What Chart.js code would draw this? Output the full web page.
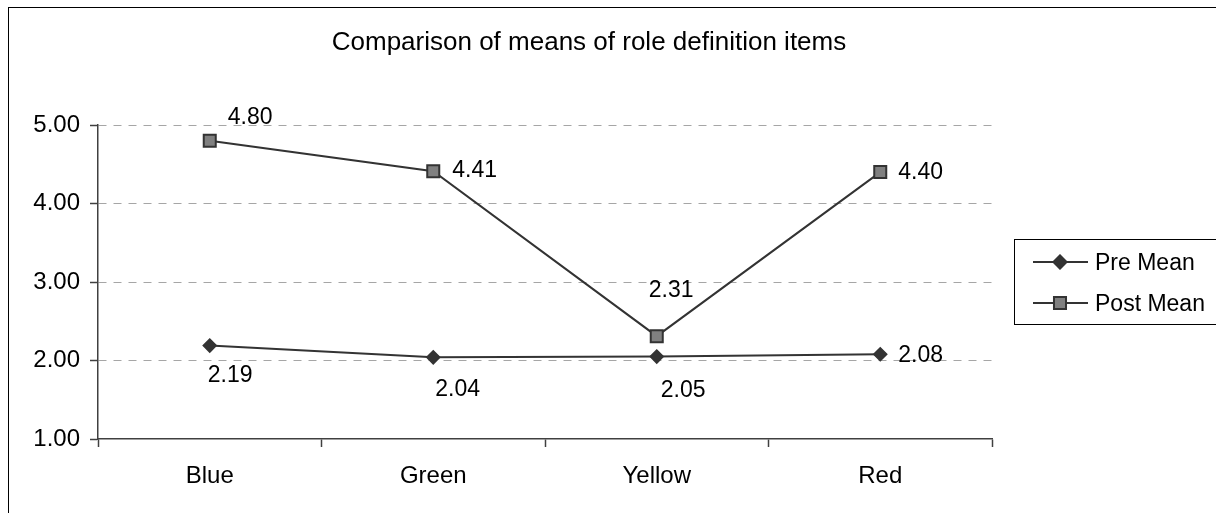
<!DOCTYPE html>
<html>
<head>
<meta charset="utf-8">
<title>Comparison of means of role definition items</title>
<script src="https://cdn.jsdelivr.net/npm/chart.js@4/dist/chart.umd.min.js"></script>
<style>
  html, body { margin: 0; padding: 0; background: #ffffff; }
  #wrap { width: 1216px; height: 513px; overflow: hidden; }
  canvas { display: block; }
</style>
</head>
<body>
<div id="wrap"><canvas id="chart" width="1216" height="513"></canvas></div>
<script>
// Categories and series
const categories = ['Blue', 'Green', 'Yellow', 'Red'];
const preMean = [2.19, 2.04, 2.05, 2.08];
const postMean = [4.80, 4.41, 2.31, 4.40];
const seriesNames = ['Pre Mean', 'Post Mean'];
const chartTitle = 'Comparison of means of role definition items';

// Where each value label sits relative to its point (dx, dy in px, text baseline)
const preLabelOffset = [[-2, 36], [2, 39], [4, 40], [18, 8]];
const postLabelOffset = [[18, -17], [19, 6], [-8, -39], [18, 7]];

const FONT = '"Liberation Sans", Arial, sans-serif';
const LINE = '#333333';
const AXIS = '#404040';
const GRID = '#a6a6a6';

// Frame, title, value labels and legend box
const decorations = {
  id: 'decorations',
  beforeDraw(chart) {
    const ctx = chart.ctx;
    ctx.save();
    ctx.fillStyle = '#ffffff';
    ctx.fillRect(0, 0, chart.width, chart.height);
    ctx.strokeStyle = '#000000';
    ctx.lineWidth = 1;
    ctx.strokeRect(8.5, 7.5, 1300, 600);
    ctx.fillStyle = '#000000';
    ctx.font = '26px ' + FONT;
    ctx.textAlign = 'center';
    ctx.textBaseline = 'alphabetic';
    ctx.fillText(chartTitle, 589, 50);
    ctx.restore();
  },
  afterDatasetsDraw(chart) {
    const ctx = chart.ctx;
    const offsets = [preLabelOffset, postLabelOffset];
    ctx.save();
    ctx.fillStyle = '#000000';
    ctx.font = '23px ' + FONT;
    ctx.textAlign = 'left';
    ctx.textBaseline = 'alphabetic';
    chart.data.datasets.forEach((ds, di) => {
      const meta = chart.getDatasetMeta(di);
      meta.data.forEach((pt, i) => {
        const [dx, dy] = offsets[di][i];
        ctx.fillText(ds.data[i].toFixed(2), pt.x + dx, pt.y + dy);
      });
    });

    // legend
    const bx = 1014.5, by = 239.5, bw = 300, bh = 85;
    ctx.strokeStyle = '#000000';
    ctx.lineWidth = 1;
    ctx.strokeRect(bx, by, bw, bh);
    const rows = [262, 303];
    chart.data.datasets.forEach((ds, di) => {
      const y = rows[di];
      ctx.strokeStyle = LINE;
      ctx.lineWidth = 2;
      ctx.beginPath();
      ctx.moveTo(1033, y);
      ctx.lineTo(1088, y);
      ctx.stroke();
      Chart.helpers.drawPoint(ctx, {
        pointStyle: ds.pointStyle,
        radius: ds.pointRadius,
        borderWidth: ds.pointBorderWidth,
        rotation: 0
      }, 1060, y);
      ctx.fillStyle = ds.pointBackgroundColor;
      ctx.strokeStyle = ds.pointBorderColor;
      ctx.lineWidth = ds.pointBorderWidth;
      ctx.beginPath();
      if (ds.pointStyle === 'rect') {
        const s = Math.SQRT1_2 * ds.pointRadius;
        ctx.rect(1060 - s, y - s, 2 * s, 2 * s);
      } else {
        const r = ds.pointRadius;
        ctx.moveTo(1060 - r, y);
        ctx.lineTo(1060, y - r);
        ctx.lineTo(1060 + r, y);
        ctx.lineTo(1060, y + r);
        ctx.closePath();
      }
      ctx.fill();
      ctx.stroke();
      ctx.fillStyle = '#000000';
      ctx.font = '23px ' + FONT;
      ctx.textAlign = 'left';
      ctx.textBaseline = 'alphabetic';
      ctx.fillText(ds.label, 1095, y + 8);
    });
    ctx.restore();
  }
};

new Chart(document.getElementById('chart'), {
  type: 'line',
  data: {
    labels: categories,
    datasets: [
      {
        label: seriesNames[0],
        data: preMean,
        borderColor: LINE,
        borderWidth: 2,
        pointStyle: 'rectRot',
        pointRadius: 6.5,
        pointBorderWidth: 1.5,
        pointBackgroundColor: LINE,
        pointBorderColor: LINE,
        tension: 0
      },
      {
        label: seriesNames[1],
        data: postMean,
        borderColor: LINE,
        borderWidth: 2,
        pointStyle: 'rect',
        pointRadius: 8.5,
        pointBorderWidth: 2,
        pointBackgroundColor: '#808080',
        pointBorderColor: LINE,
        tension: 0
      }
    ]
  },
  options: {
    responsive: false,
    animation: false,
    devicePixelRatio: 1,
    layout: { padding: { left: 0, top: 125, right: 224, bottom: 0 } },
    plugins: {
      legend: { display: false },
      title: { display: false },
      tooltip: { enabled: false }
    },
    scales: {
      x: {
        offset: true,
        afterFit(scale) { scale.height = 74; },
        grid: {
          offset: true,
          drawOnChartArea: false,
          drawTicks: true,
          tickLength: 8,
          tickColor: AXIS,
          tickWidth: 1.5
        },
        border: { display: true, color: AXIS, width: 1.5 },
        ticks: {
          color: '#000000',
          font: { family: FONT, size: 24 },
          padding: 15,
          maxRotation: 0
        }
      },
      y: {
        min: 1,
        max: 5,
        afterFit(scale) { scale.width = 98; },
        grid: {
          color: (c) => (c.tick && c.tick.value === 1 ? 'rgba(0,0,0,0)' : GRID),
          lineWidth: 1,
          drawTicks: true,
          tickLength: 8,
          tickColor: AXIS,
          tickWidth: 1.5,
          tickBorderDash: []
        },
        border: { display: true, color: AXIS, width: 1.5, dash: [8, 7] },
        ticks: {
          stepSize: 1,
          color: '#000000',
          font: { family: FONT, size: 24 },
          padding: 10,
          callback: (v) => Number(v).toFixed(2)
        }
      }
    }
  },
  plugins: [decorations]
});
</script>
</body>
</html>
